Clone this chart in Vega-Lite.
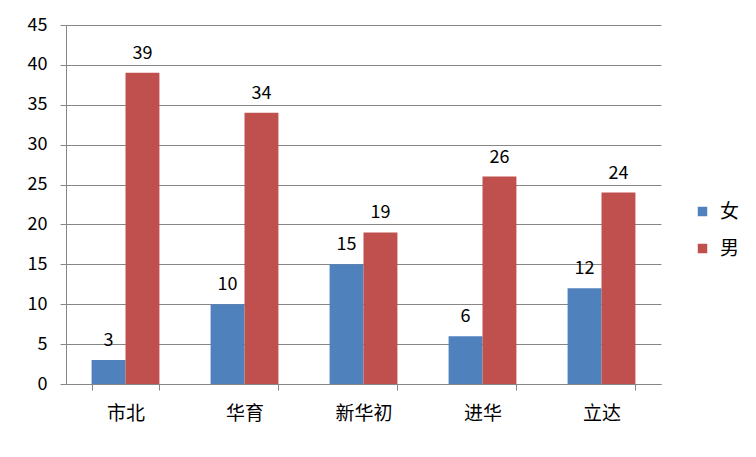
{
  "$schema": "https://vega.github.io/schema/vega-lite/v6.json",
  "autosize": {"type": "none"},
  "width": 595,
  "height": 359,
  "padding": {"left": 66, "top": 25, "right": 95, "bottom": 73},
  "background": "white",
  "data": {
    "values": [
      {"school": "市北", "sex": "女", "n": 3},
      {"school": "市北", "sex": "男", "n": 39},
      {"school": "华育", "sex": "女", "n": 10},
      {"school": "华育", "sex": "男", "n": 34},
      {"school": "新华初", "sex": "女", "n": 15},
      {"school": "新华初", "sex": "男", "n": 19},
      {"school": "进华", "sex": "女", "n": 6},
      {"school": "进华", "sex": "男", "n": 26},
      {"school": "立达", "sex": "女", "n": 12},
      {"school": "立达", "sex": "男", "n": 24}
    ]
  },
  "encoding": {
    "x": {
      "field": "school", "type": "nominal", "sort": null,
      "scale": {"paddingInner": 0.43, "paddingOuter": 0.215},
      "axis": {
        "title": null, "labelAngle": 0, "tickBand": "extent",
        "labelFontSize": 19, "labelPadding": 14, "labelColor": "#000000",
        "domainColor": "#868686", "tickColor": "#868686", "tickSize": 6,
        "grid": false
      }
    },
    "xOffset": {"field": "sex", "type": "nominal", "sort": ["女", "男"]},
    "y": {
      "field": "n", "type": "quantitative",
      "scale": {"domain": [0, 45], "nice": false},
      "axis": {
        "title": null, "values": [0,5,10,15,20,25,30,35,40,45],
        "labelFontSize": 18, "labelPadding": 13, "labelColor": "#000000",
        "domainColor": "#868686", "tickColor": "#868686", "tickSize": 6,
        "grid": true, "gridColor": "#868686"
      }
    }
  },
  "layer": [
    {
      "mark": {"type": "bar"},
      "encoding": {
        "color": {
          "field": "sex", "type": "nominal", "sort": ["女", "男"],
          "scale": {"domain": ["女", "男"], "range": ["#4F81BD", "#C0504D"]},
          "legend": {
            "title": null, "orient": "none", "legendX": 627, "legendY": 177,
            "symbolType": "square", "symbolSize": 90, "symbolStrokeWidth": 0,
            "labelFontSize": 19, "labelColor": "#000000", "labelOffset": 8,
            "rowPadding": 17, "padding": 0
          }
        }
      }
    },
    {
      "mark": {"type": "text", "baseline": "alphabetic", "dy": -14, "fontSize": 18, "color": "#000000"},
      "encoding": {"text": {"field": "n", "type": "quantitative"}}
    }
  ],
  "config": {
    "font": "Noto Sans CJK SC",
    "view": {"stroke": null}
  }
}
